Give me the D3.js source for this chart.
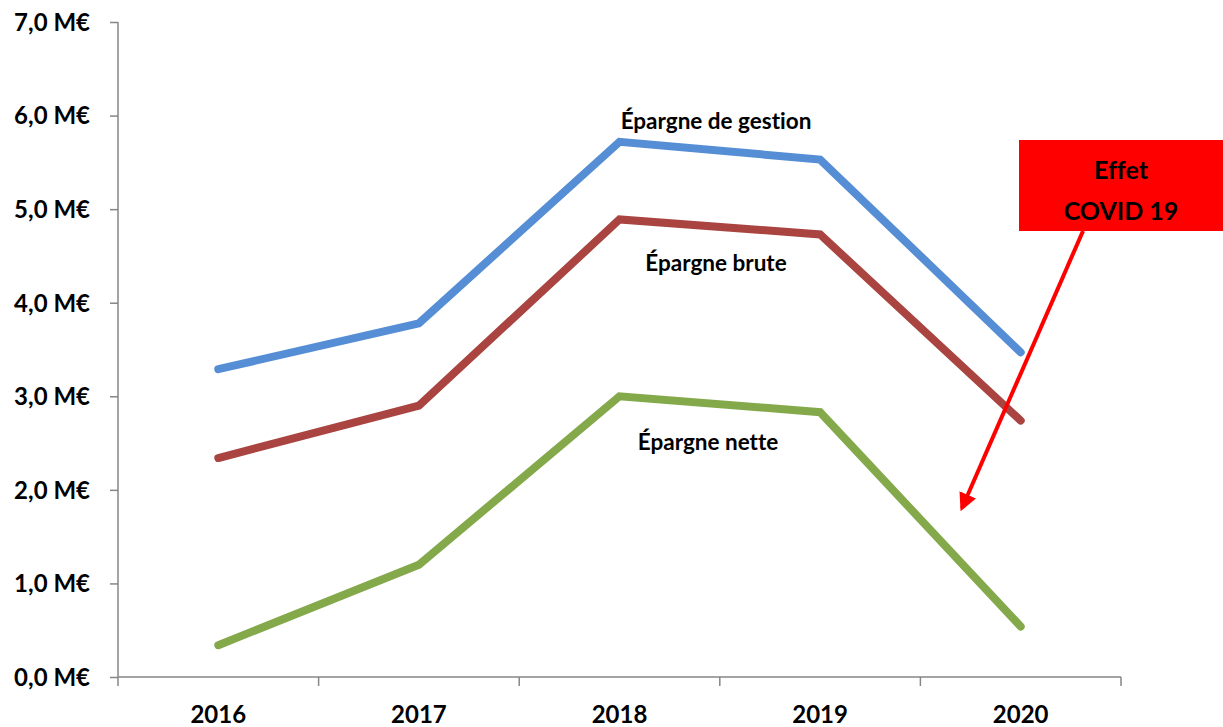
<!DOCTYPE html>
<html>
<head>
<meta charset="utf-8">
<script src="https://cdn.jsdelivr.net/npm/d3@7"></script>
<style>
  body { margin: 0; background: #fff; }
  text { font-family: Lato, "Open Sans", sans-serif; font-weight: bold; fill: #000; font-variant-ligatures: none; }
</style>
</head>
<body>
<script>
// data (M€)
var years = ["2016", "2017", "2018", "2019", "2020"];
var epargneGestion = [3.29, 3.78, 5.72, 5.53, 3.47];
var epargneBrute = [2.34, 2.90, 4.89, 4.73, 2.74];
var epargneNette = [0.34, 1.20, 3.00, 2.83, 0.54];
var yTicks = [0, 1, 2, 3, 4, 5, 6, 7];

var series = [
    { name: "Épargne de gestion", values: epargneGestion, color: "#558ed5", lx: 716, lv: 5.94 },
    { name: "Épargne brute", values: epargneBrute, color: "#a94441", lx: 716, lv: 4.42 },
    { name: "Épargne nette", values: epargneNette, color: "#84a94b", lx: 708, lv: 2.51 }
];

var svg = d3.select("body").append("svg")
    .attr("width", 1223)
    .attr("height", 727);

var x = d3.scaleBand().domain(years).range([118, 1121]);
var y = d3.scaleLinear().domain([0, 7]).range([677, 22]);

// y axis
var yAxis = svg.append("g")
    .attr("transform", "translate(118,0)")
    .call(d3.axisLeft(y).tickValues(yTicks).tickSize(8).tickPadding(20)
        .tickFormat(function (d) { return d3.format(".1f")(d).replace(".", ",") + " M€"; }));
yAxis.selectAll("path, line").attr("stroke", "#868686").attr("stroke-width", 1.5);
yAxis.select(".domain").attr("d", "M0," + y(7) + "V" + y(0));
yAxis.selectAll("text").style("font-size", "24px").attr("dy", "0.35em");

// x axis with ticks between categories
var xAxis = svg.append("g").attr("transform", "translate(0," + y(0) + ")");
xAxis.append("line")
    .attr("x1", 118).attr("x2", 1121)
    .attr("stroke", "#868686").attr("stroke-width", 1.5);
var bounds = years.map(function (d) { return x(d); }).concat([x.range()[1]]);
xAxis.selectAll(".tk").data(bounds).enter().append("line")
    .attr("x1", function (d) { return d; }).attr("x2", function (d) { return d; })
    .attr("y1", 0).attr("y2", 9)
    .attr("stroke", "#868686").attr("stroke-width", 1.5);
xAxis.selectAll(".lbl").data(years).enter().append("text")
    .attr("x", function (d) { return x(d) + x.bandwidth() / 2; })
    .attr("y", 46)
    .attr("text-anchor", "middle")
    .style("font-size", "24px")
    .text(function (d) { return d; });

// lines
var line = d3.line()
    .x(function (d, i) { return x(years[i]) + x.bandwidth() / 2; })
    .y(function (d) { return y(d); });

svg.selectAll(".serie").data(series).enter().append("path")
    .attr("d", function (d) { return line(d.values); })
    .attr("fill", "none")
    .attr("stroke", function (d) { return d.color; })
    .attr("stroke-width", 8)
    .attr("stroke-linecap", "round")
    .attr("stroke-linejoin", "miter");

svg.selectAll(".slbl").data(series).enter().append("text")
    .attr("x", function (d) { return d.lx; })
    .attr("y", function (d) { return y(d.lv); })
    .attr("text-anchor", "middle")
    .attr("dy", "0.35em")
    .style("font-size", "22.5px")
    .text(function (d) { return d.name; });

// COVID callout
svg.append("defs").append("marker")
    .attr("id", "head")
    .attr("viewBox", "0 0 10 10")
    .attr("refX", 8).attr("refY", 5)
    .attr("markerWidth", 4.5).attr("markerHeight", 4.5)
    .attr("orient", "auto")
    .append("path").attr("d", "M0,0L10,5L0,10z").attr("fill", "#ff0000");

svg.append("line")
    .attr("x1", 1083).attr("y1", 231)
    .attr("x2", 962).attr("y2", 508)
    .attr("stroke", "#ff0000").attr("stroke-width", 4)
    .attr("marker-end", "url(#head)");

svg.append("rect")
    .attr("x", 1019).attr("y", 140)
    .attr("width", 204).attr("height", 91)
    .attr("fill", "#ff0000");

svg.append("text").attr("x", 1121).attr("y", 170)
    .attr("text-anchor", "middle").attr("dy", "0.35em")
    .style("font-size", "25px").text("Effet");
svg.append("text").attr("x", 1121).attr("y", 211)
    .attr("text-anchor", "middle").attr("dy", "0.35em")
    .style("font-size", "25px").text("COVID 19");
</script>
</body>
</html>
